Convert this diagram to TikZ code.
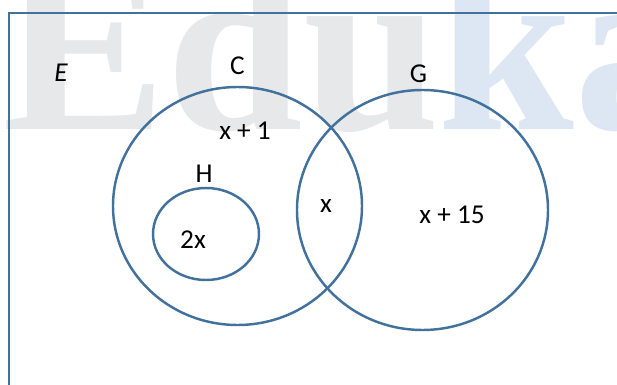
\documentclass[tikz,border=0pt]{standalone}
\usepackage{fontspec}
\setmainfont{Carlito}
\newfontfamily\wmfont{Liberation Serif}
\definecolor{setblue}{HTML}{41719C}
\definecolor{wmgrey}{HTML}{E7E8E9}
\definecolor{wmblue}{HTML}{DDE7F3}
\tikzset{
  setline/.style={setblue, line width=1.4pt},
  lbl/.style={inner sep=0pt, font=\fontsize{15.5}{18}\selectfont},
  wmark/.style={anchor=base west, inner sep=0pt, font=\wmfont\bfseries\fontsize{140}{140}\selectfont}
}
\begin{document}
\begin{tikzpicture}
            \useasboundingbox (0,0) rectangle (12.34,7.7);
            % watermark
            \node[wmark, text=wmgrey] (wmedu) at (0.05,5.1) {Edu};
            \node[wmark, text=wmblue] (wmka) at (8.75,5.1) {ka};
            % frame
            \draw[setline] (0.18,-0.5) -- (0.18,7.44) -- (12.8,7.44);
            % sets
            \draw[setline] (4.75,3.58) ellipse (2.49 and 2.38);
            \draw[setline] (8.45,3.50) ellipse (2.51 and 2.40);
            \draw[setline] (4.12,3.02) ellipse (1.06 and 0.92);
            % labels
            \foreach \name/\pos/\txt in {univ/{1.22,6.25}/{\itshape E},
                setC/{4.75,6.39}/C, setG/{8.37,6.22}/G, setH/{4.08,4.22}/H,
                onlyC/{4.9,5.08}/{x + 1}, both/{6.52,3.58}/x,
                onlyG/{9.04,3.4}/{x + 15}, inH/{3.86,2.9}/2x}
            \node[lbl] (\name) at (\pos) {\txt};
        \end{tikzpicture}
\end{document}
